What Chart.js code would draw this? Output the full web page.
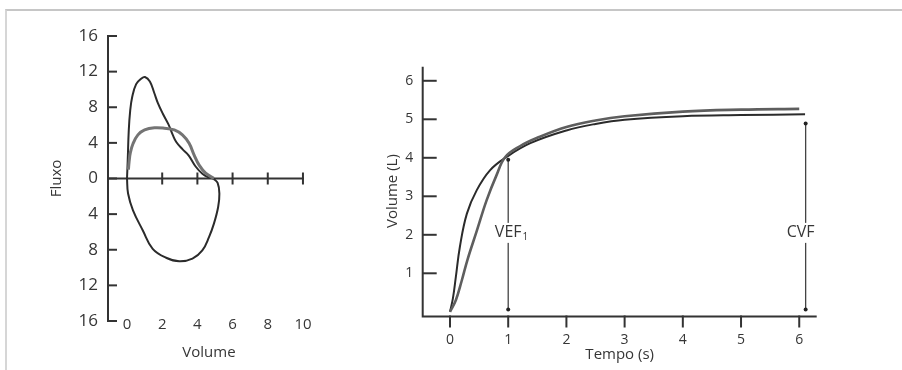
<!DOCTYPE html>
<html><head><meta charset="utf-8">
<script src="https://cdn.jsdelivr.net/npm/chart.js@4.4.0/dist/chart.umd.min.js"></script>
<style>
html,body{margin:0;padding:0;background:#fff;width:902px;height:370px;overflow:hidden;}
#frame{position:absolute;left:5px;top:9px;width:905px;height:370px;border-top:2px solid #c6c6c6;border-left:2px solid #d6d6d6;}
#w1{position:absolute;left:0;top:0;width:330px;height:370px;}
#w2{position:absolute;left:330px;top:0;width:572px;height:370px;}
</style></head><body>
<div id="frame"></div>
<div id="w1"><canvas id="c1"></canvas></div>
<div id="w2"><canvas id="c2"></canvas></div>
<script>
// ---------- data: flow-volume loop ----------
const loopXTicks = [0, 2, 4, 6, 8, 10];
const loopYTicks = [-16, -12, -8, -4, 0, 4, 8, 12, 16];
const expBlackX = [0, 0.04, 0.1, 0.18, 0.3, 0.52, 0.8, 1.02, 1.3, 1.55, 1.75, 2.03, 2.35, 2.6, 2.8, 3.15, 3.5, 3.9, 4.3, 4.6, 4.9];
const expBlackY = [0, 2.0, 5.4, 7.6, 9.2, 10.6, 11.2, 11.4, 10.9, 9.6, 8.5, 7.3, 6.1, 4.9, 4.1, 3.3, 2.6, 1.35, 0.5, 0.15, 0];
const expGrayX = [0.08, 0.12, 0.19, 0.34, 0.62, 1.0, 1.56, 2.12, 2.69, 3.15, 3.53, 3.81, 4.1, 4.47, 4.94];
const expGrayY = [1.0, 1.9, 2.9, 3.9, 4.9, 5.45, 5.7, 5.65, 5.45, 4.9, 3.95, 2.65, 1.5, 0.6, 0];
const inspX = [4.9, 5.15, 5.25, 5.18, 4.94, 4.66, 4.28, 3.72, 2.97, 2.22, 1.46, 0.9, 0.34, 0.06, 0];
const inspY = [0, -0.5, -1.7, -3.2, -5.07, -6.58, -8.08, -9.0, -9.3, -8.9, -7.9, -5.83, -3.57, -1.69, 0];

// ---------- data: volume-time curves ----------
const timeTicks = [0, 1, 2, 3, 4, 5, 6];
const volTicks = [1, 2, 3, 4, 5, 6];
const fastT = [0, 0.05, 0.1, 0.17, 0.29, 0.46, 0.69, 0.97, 1.38, 2.0, 2.5, 3.0, 4.0, 5.0, 6.1];
const fastV = [0, 0.35, 0.9, 1.69, 2.55, 3.16, 3.68, 4.02, 4.38, 4.71, 4.88, 4.99, 5.08, 5.11, 5.13];
const slowT = [0, 0.1, 0.2, 0.3, 0.46, 0.63, 0.8, 0.95, 1.2, 1.5, 2.0, 2.5, 3.0, 4.0, 5.0, 6.0];
const slowV = [0, 0.3, 0.8, 1.35, 2.1, 2.9, 3.55, 4.02, 4.3, 4.52, 4.8, 4.97, 5.08, 5.2, 5.25, 5.27];
const markerBase = 0.06;
const fev1Time = 1, fev1Top = 3.95, fev1LabelY = 2.05;
const fvcTime = 6.11, fvcTop = 4.89, fvcLabelY = 2.05;

// ---------- styles ----------
const TXT = '#363636', AXIS = '#333333', BLACK = '#2b2b2b', GRAY = '#747474', GRAY2 = '#5e5e5e';
Chart.defaults.font.family = "'Open Sans', sans-serif";
Chart.defaults.color = TXT;

const pts = (xs, ys) => xs.map((x, i) => ({x, y: ys[i]}));
const noLegend = {legend: {display: false}, tooltip: {enabled: false}};

// ---------- left chart ----------
const loopAxes = {
  id: 'loopAxes',
  beforeDatasetsDraw(chart) {
    const {ctx, scales: {x, y}} = chart;
    ctx.save();
    ctx.strokeStyle = AXIS; ctx.lineWidth = 2;
    const xl = x.getPixelForValue(x.min);
    const yTop = y.getPixelForValue(loopYTicks[loopYTicks.length - 1]);
    const yBot = y.getPixelForValue(loopYTicks[0]);
    ctx.beginPath(); ctx.moveTo(xl, yTop - 1); ctx.lineTo(xl, yBot + 1); ctx.stroke();
    loopYTicks.forEach(v => {
      const py = y.getPixelForValue(v);
      ctx.beginPath(); ctx.moveTo(xl, py); ctx.lineTo(xl + 9, py); ctx.stroke();
    });
    const y0 = y.getPixelForValue(0);
    const xEnd = x.getPixelForValue(loopXTicks[loopXTicks.length - 1]);
    ctx.beginPath(); ctx.moveTo(xl, y0); ctx.lineTo(xEnd + 1, y0); ctx.stroke();
    loopXTicks.filter(v => v > 0).forEach(v => {
      const px = x.getPixelForValue(v);
      ctx.beginPath(); ctx.moveTo(px, y0 - 6); ctx.lineTo(px, y0 + 6); ctx.stroke();
    });
    ctx.restore();
  }
};

new Chart(document.getElementById('c1'), {
  type: 'scatter',
  data: {
    datasets: [
      {data: pts(expGrayX, expGrayY), showLine: true, borderColor: GRAY, borderWidth: 3, pointRadius: 0, tension: 0.4},
      {data: pts(expBlackX, expBlackY), showLine: true, borderColor: BLACK, borderWidth: 2, pointRadius: 0, tension: 0.4},
      {data: pts(inspX, inspY), showLine: true, borderColor: BLACK, borderWidth: 2, pointRadius: 0, tension: 0.4}
    ]
  },
  options: {
    responsive: true, maintainAspectRatio: false, animation: false,
    layout: {padding: {top: 36, right: 20, bottom: 0, left: 0}},
    plugins: noLegend,
    scales: {
      x: {
        type: 'linear', position: 'bottom', min: -1.08, max: 10.4,
        afterBuildTicks: s => { s.ticks = loopXTicks.map(v => ({value: v})); },
        afterFit: s => { s.height = 49; },
        grid: {display: false, drawTicks: false}, border: {display: false},
        ticks: {mirror: true, padding: -13, font: {size: 15}, color: TXT, maxRotation: 0, autoSkip: false, callback: v => String(v)},
        title: {display: true, text: 'Volume', font: {size: 15}, color: TXT, padding: {top: 0, bottom: 8}}
      },
      y: {
        type: 'linear', position: 'left', min: -16, max: 16,
        afterBuildTicks: s => { s.ticks = loopYTicks.map(v => ({value: v})); },
        afterFit: s => { s.width = 108; },
        grid: {display: false, drawTicks: false}, border: {display: false},
        ticks: {padding: 10, font: {size: 17}, color: TXT, autoSkip: false, callback: v => String(Math.abs(v))},
        title: {display: true, text: 'Fluxo', font: {size: 15}, color: TXT, padding: {top: 48, bottom: 0}}
      }
    }
  },
  plugins: [loopAxes]
});

// ---------- right chart ----------
const timeAxes = {
  id: 'timeAxes',
  beforeDatasetsDraw(chart) {
    const {ctx, chartArea: a, scales: {x, y}} = chart;
    ctx.save();
    ctx.strokeStyle = AXIS; ctx.lineWidth = 2;
    ctx.beginPath(); ctx.moveTo(a.left, a.top); ctx.lineTo(a.left, a.bottom + 1); ctx.lineTo(a.right, a.bottom + 1); ctx.stroke();
    volTicks.forEach(v => {
      const py = y.getPixelForValue(v);
      ctx.beginPath(); ctx.moveTo(a.left, py); ctx.lineTo(a.left + 14, py); ctx.stroke();
    });
    timeTicks.forEach(v => {
      const px = x.getPixelForValue(v);
      ctx.beginPath(); ctx.moveTo(px, a.bottom); ctx.lineTo(px, a.bottom + 12); ctx.stroke();
    });
    ctx.restore();
  },
  afterDatasetsDraw(chart) {
    const {ctx, scales: {x, y}} = chart;
    ctx.save();
    ctx.textBaseline = 'middle';
    const label = (main, sub, px, py) => {
      ctx.font = "16px 'Open Sans', sans-serif";
      const w = ctx.measureText(main).width;
      ctx.font = "10px 'Open Sans', sans-serif";
      const ws = sub ? ctx.measureText(sub).width + 1 : 0;
      ctx.fillStyle = '#fff';
      ctx.fillRect(px - w / 2 - 1, py - 10, w + ws + 2, 20);
      ctx.fillStyle = TXT;
      ctx.font = "16px 'Open Sans', sans-serif";
      ctx.textAlign = 'center';
      ctx.fillText(main, px, py);
      if (sub) {
        ctx.font = "10px 'Open Sans', sans-serif";
        ctx.textAlign = 'left';
        ctx.fillText(sub, px + w / 2 + 1, py + 4);
      }
    };
    label('VEF', '1', x.getPixelForValue(fev1Time), y.getPixelForValue(fev1LabelY));
    label('CVF', '', x.getPixelForValue(fvcTime) - 5, y.getPixelForValue(fvcLabelY));
    ctx.restore();
  }
};

new Chart(document.getElementById('c2'), {
  type: 'scatter',
  data: {
    datasets: [
      {data: pts(slowT, slowV), showLine: true, borderColor: GRAY2, borderWidth: 2.6, pointRadius: 0, tension: 0.4},
      {data: pts(fastT, fastV), showLine: true, borderColor: BLACK, borderWidth: 2, pointRadius: 0, tension: 0.4},
      {data: [{x: fev1Time, y: markerBase}, {x: fev1Time, y: fev1Top}], showLine: true, borderColor: '#444', borderWidth: 1.3,
       pointRadius: 2, pointBackgroundColor: '#222', pointBorderWidth: 0, tension: 0},
      {data: [{x: fvcTime, y: markerBase}, {x: fvcTime, y: fvcTop}], showLine: true, borderColor: '#444', borderWidth: 1.3,
       pointRadius: 2, pointBackgroundColor: '#222', pointBorderWidth: 0, tension: 0}
    ]
  },
  options: {
    responsive: true, maintainAspectRatio: false, animation: false,
    layout: {padding: {top: 66.7, right: 85.3, bottom: 0, left: 0}},
    plugins: noLegend,
    scales: {
      x: {
        type: 'linear', position: 'bottom', min: -0.469, max: 6.30,
        afterBuildTicks: s => { s.ticks = timeTicks.map(v => ({value: v})); },
        afterFit: s => { s.height = 54.5; },
        grid: {display: false, drawTicks: false}, border: {display: false},
        ticks: {padding: 16, font: {size: 14}, color: TXT, maxRotation: 0, autoSkip: false, callback: v => String(v)},
        title: {display: true, text: 'Tempo (s)', font: {size: 15}, color: TXT, padding: {top: 0, bottom: 6.5}}
      },
      y: {
        type: 'linear', position: 'left', min: -0.096, max: 6.366,
        afterBuildTicks: s => { s.ticks = volTicks.map(v => ({value: v})); },
        afterFit: s => { s.width = 92.7; },
        grid: {display: false, drawTicks: false}, border: {display: false},
        ticks: {padding: 9.4, font: {size: 14}, color: TXT, autoSkip: false, callback: v => String(v)},
        title: {display: true, text: 'Volume (L)', font: {size: 15}, color: TXT, padding: {top: 54, bottom: 0}}
      }
    }
  },
  plugins: [timeAxes]
});
</script>
</body></html>
